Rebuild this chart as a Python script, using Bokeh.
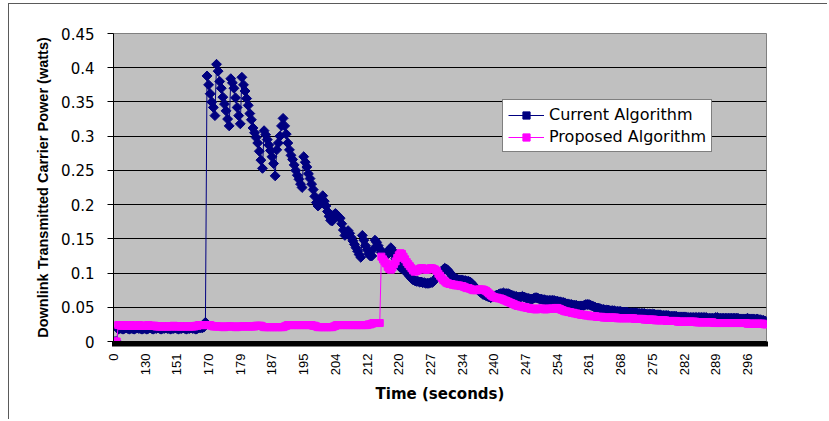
import numpy as np
from bokeh.plotting import figure
from bokeh.models import (Range1d, FixedTicker, CustomJSTickFormatter, Legend,
                          LegendItem, ColumnDataSource)
from bokeh.embed import file_html
from bokeh.resources import INLINE

# ---- data ----
time_labels = ["0", "130", "151", "170", "179", "187", "195", "204", "212", "220",
               "227", "234", "240", "247", "254", "261", "268", "275", "282", "289", "296"]
label_every = 20
y_ticks = [0, 0.05, 0.1, 0.15, 0.2, 0.25, 0.3, 0.35, 0.4, 0.45]

current = [
    0.0, 0.0, 0.0, 0.018, 0.019, 0.019, 0.018, 0.019, 0.02, 0.019,
    0.018, 0.019, 0.019, 0.018, 0.019, 0.02, 0.019, 0.019, 0.018, 0.019,
    0.019, 0.018, 0.019, 0.02, 0.019, 0.018, 0.019, 0.019, 0.02, 0.019,
    0.018, 0.019, 0.019, 0.02, 0.019, 0.019, 0.018, 0.019, 0.019, 0.02,
    0.019, 0.018, 0.019, 0.019, 0.02, 0.019, 0.018, 0.019, 0.019, 0.02,
    0.019, 0.019, 0.018, 0.019, 0.02, 0.02, 0.02, 0.021, 0.028, 0.388,
    0.375, 0.362, 0.35, 0.342, 0.33, 0.405, 0.395, 0.38, 0.37, 0.357,
    0.347, 0.337, 0.325, 0.315, 0.384, 0.378, 0.37, 0.356, 0.342, 0.33,
    0.318, 0.386, 0.375, 0.366, 0.355, 0.345, 0.333, 0.324, 0.312, 0.305,
    0.298, 0.29, 0.278, 0.265, 0.253, 0.308, 0.302, 0.295, 0.287, 0.279,
    0.27, 0.26, 0.242, 0.28, 0.29, 0.3, 0.315, 0.326, 0.315, 0.303,
    0.29, 0.28, 0.272, 0.266, 0.258, 0.25, 0.243, 0.237, 0.23, 0.225,
    0.27, 0.262, 0.255, 0.245, 0.238, 0.23, 0.222, 0.212, 0.203, 0.198,
    0.2, 0.208, 0.213, 0.205, 0.198, 0.19, 0.183, 0.177, 0.176, 0.185,
    0.187, 0.185, 0.182, 0.18, 0.172, 0.163, 0.155, 0.158, 0.162, 0.158,
    0.152, 0.147, 0.142, 0.137, 0.132, 0.127, 0.123, 0.155, 0.148, 0.14,
    0.134, 0.128, 0.125, 0.125, 0.135, 0.148, 0.145, 0.14, 0.135, 0.13,
    0.128, 0.126, 0.125, 0.13, 0.134, 0.137, 0.133, 0.127, 0.121, 0.116,
    0.112, 0.108, 0.107, 0.105, 0.103, 0.1, 0.098, 0.095, 0.092, 0.09,
    0.089, 0.088, 0.088, 0.087, 0.087, 0.086, 0.086, 0.085, 0.085, 0.085,
    0.086, 0.086, 0.088, 0.091, 0.094, 0.097, 0.1, 0.103, 0.105, 0.107,
    0.106, 0.104, 0.101, 0.098, 0.095, 0.093, 0.092, 0.091, 0.09, 0.09,
    0.09, 0.089, 0.089, 0.088, 0.088, 0.087, 0.085, 0.082, 0.08, 0.077,
    0.075, 0.073, 0.071, 0.069, 0.068, 0.067, 0.066, 0.065, 0.064, 0.065,
    0.066, 0.067, 0.068, 0.069, 0.07, 0.07, 0.071, 0.07, 0.07, 0.07,
    0.069, 0.068, 0.067, 0.066, 0.066, 0.065, 0.065, 0.065, 0.066, 0.065,
    0.064, 0.063, 0.063, 0.062, 0.062, 0.063, 0.064, 0.064, 0.063, 0.062,
    0.062, 0.061, 0.061, 0.06, 0.06, 0.06, 0.06, 0.06, 0.06, 0.059,
    0.059, 0.058, 0.058, 0.057, 0.057, 0.056, 0.055, 0.055, 0.054, 0.054,
    0.053, 0.053, 0.053, 0.052, 0.052, 0.052, 0.052, 0.053, 0.054, 0.054,
    0.054, 0.053, 0.052, 0.051, 0.05, 0.049, 0.049, 0.048, 0.047, 0.047,
    0.046, 0.046, 0.046, 0.045, 0.045, 0.045, 0.045, 0.044, 0.044, 0.044,
    0.044, 0.043, 0.043, 0.043, 0.043, 0.042, 0.042, 0.042, 0.042, 0.042,
    0.042, 0.041, 0.041, 0.041, 0.041, 0.041, 0.04, 0.04, 0.04, 0.04,
    0.04, 0.04, 0.039, 0.039, 0.039, 0.039, 0.038, 0.038, 0.038, 0.038,
    0.038, 0.037, 0.037, 0.037, 0.037, 0.037, 0.036, 0.036, 0.036, 0.036,
    0.036, 0.036, 0.035, 0.035, 0.035, 0.035, 0.035, 0.035, 0.035, 0.035,
    0.035, 0.035, 0.035, 0.035, 0.035, 0.034, 0.034, 0.034, 0.034, 0.034,
    0.035, 0.035, 0.034, 0.034, 0.034, 0.034, 0.034, 0.034, 0.034, 0.034,
    0.034, 0.034, 0.034, 0.034, 0.034, 0.033, 0.033, 0.033, 0.033, 0.033,
    0.034, 0.033, 0.033, 0.033, 0.033, 0.032, 0.033, 0.032, 0.032, 0.031,
    0.031, 0.03, 0.029,
]

proposed = [
    0.0, 0.0, 0.0, 0.024, 0.024, 0.023, 0.023, 0.024, 0.023, 0.023,
    0.023, 0.024, 0.023, 0.023, 0.023, 0.023, 0.024, 0.023, 0.023, 0.023,
    0.023, 0.023, 0.024, 0.023, 0.023, 0.023, 0.023, 0.022, 0.022, 0.022,
    0.022, 0.022, 0.022, 0.022, 0.022, 0.022, 0.022, 0.022, 0.023, 0.022,
    0.022, 0.022, 0.022, 0.022, 0.022, 0.022, 0.022, 0.022, 0.022, 0.022,
    0.022, 0.022, 0.023, 0.023, 0.024, 0.024, 0.024, 0.024, 0.024, 0.024,
    0.024, 0.024, 0.023, 0.022, 0.022, 0.022, 0.022, 0.022, 0.022, 0.021,
    0.021, 0.022, 0.022, 0.022, 0.022, 0.022, 0.022, 0.021, 0.021, 0.022,
    0.022, 0.022, 0.022, 0.022, 0.022, 0.022, 0.022, 0.022, 0.022, 0.022,
    0.023, 0.023, 0.023, 0.023, 0.022, 0.021, 0.021, 0.021, 0.021, 0.021,
    0.021, 0.021, 0.021, 0.021, 0.021, 0.021, 0.021, 0.021, 0.022, 0.023,
    0.024, 0.024, 0.024, 0.024, 0.024, 0.024, 0.024, 0.024, 0.024, 0.024,
    0.024, 0.024, 0.024, 0.024, 0.024, 0.024, 0.023, 0.023, 0.022, 0.021,
    0.021, 0.021, 0.021, 0.021, 0.021, 0.021, 0.021, 0.021, 0.021, 0.022,
    0.023, 0.024, 0.024, 0.024, 0.024, 0.024, 0.024, 0.024, 0.024, 0.024,
    0.024, 0.024, 0.024, 0.024, 0.024, 0.024, 0.024, 0.024, 0.024, 0.024,
    0.024, 0.025, 0.025, 0.026, 0.027, 0.027, 0.027, 0.027, 0.027, 0.124,
    0.12, 0.117, 0.114, 0.109, 0.106, 0.105, 0.108, 0.113, 0.117, 0.122,
    0.126, 0.129, 0.128, 0.124, 0.12, 0.116, 0.113, 0.11, 0.107, 0.104,
    0.102, 0.103, 0.104, 0.106, 0.107, 0.107, 0.106, 0.105, 0.105, 0.106,
    0.107, 0.107, 0.106, 0.105, 0.103, 0.099, 0.096, 0.093, 0.09, 0.088,
    0.086, 0.085, 0.084, 0.084, 0.083, 0.083, 0.082, 0.082, 0.082, 0.081,
    0.081, 0.08, 0.079, 0.078, 0.078, 0.077, 0.076, 0.075, 0.075, 0.075,
    0.076, 0.076, 0.076, 0.076, 0.075, 0.074, 0.072, 0.07, 0.068, 0.066,
    0.065, 0.064, 0.064, 0.063, 0.063, 0.062, 0.061, 0.06, 0.059, 0.058,
    0.057, 0.056, 0.055, 0.054, 0.053, 0.052, 0.052, 0.051, 0.051, 0.05,
    0.05, 0.049, 0.049, 0.048, 0.048, 0.048, 0.047, 0.047, 0.048, 0.048,
    0.048, 0.048, 0.047, 0.047, 0.048, 0.048, 0.048, 0.048, 0.048, 0.049,
    0.049, 0.048, 0.047, 0.046, 0.045, 0.044, 0.044, 0.043, 0.043, 0.042,
    0.042, 0.041, 0.041, 0.04, 0.04, 0.039, 0.039, 0.039, 0.038, 0.038,
    0.038, 0.037, 0.037, 0.037, 0.037, 0.036, 0.036, 0.036, 0.036, 0.035,
    0.035, 0.035, 0.035, 0.035, 0.035, 0.035, 0.035, 0.035, 0.034, 0.034,
    0.034, 0.034, 0.034, 0.034, 0.034, 0.034, 0.034, 0.034, 0.034, 0.033,
    0.033, 0.033, 0.033, 0.033, 0.033, 0.032, 0.032, 0.032, 0.032, 0.032,
    0.032, 0.032, 0.031, 0.031, 0.031, 0.031, 0.031, 0.031, 0.031, 0.03,
    0.03, 0.03, 0.03, 0.03, 0.03, 0.03, 0.029, 0.029, 0.029, 0.029,
    0.029, 0.029, 0.029, 0.029, 0.029, 0.029, 0.029, 0.029, 0.028, 0.028,
    0.028, 0.028, 0.028, 0.028, 0.028, 0.028, 0.028, 0.028, 0.028, 0.027,
    0.027, 0.027, 0.027, 0.027, 0.027, 0.027, 0.027, 0.027, 0.027, 0.027,
    0.027, 0.027, 0.027, 0.027, 0.027, 0.027, 0.027, 0.027, 0.027, 0.027,
    0.026, 0.026, 0.026, 0.026, 0.026, 0.026, 0.026, 0.026, 0.026, 0.026,
    0.026, 0.025, 0.025,
]

idx = list(range(len(current)))
src = ColumnDataSource(dict(x=idx, cur=current, pro=proposed))

p = figure(width=819, height=416, output_backend="svg", toolbar_location=None,
           x_range=Range1d(0, len(current) - 1), y_range=Range1d(0, 0.45),
           min_border_left=104, min_border_right=62, min_border_top=29,
           min_border_bottom=79)
# page frame lines along the top and left, drawn as an offset shadow (no layout effect);
# an opaque element background keeps the shadow from showing anywhere else
p.styles = {"margin-left": "9px", "margin-top": "4px",
            "background-color": "white",
            "box-shadow": "-1px -1px 0px 0px #5a5a5a"}
p.background_fill_color = "#C0C0C0"
p.border_fill_color = "white"
p.outline_line_color = "#808080"
p.outline_line_width = 1

p.xgrid.visible = False
p.ygrid.ticker = FixedTicker(ticks=y_ticks[1:-1])
p.ygrid.grid_line_color = "#000000"
p.ygrid.grid_line_width = 1

l1 = p.line("x", "cur", source=src, line_color="#000080", line_width=1)
s1 = p.scatter("x", "cur", source=src, marker="square", angle=np.pi / 4, size=7,
               fill_color="#000080", line_color="#000080", line_width=1)
l2 = p.line("x", "pro", source=src, line_color="#FF00FF", line_width=1)
s2 = p.scatter("x", "pro", source=src, marker="square", size=7,
               fill_color="#FF00FF", line_color="#FF00FF", line_width=1)

# x axis
xa = p.xaxis[0]
xa.ticker = FixedTicker(ticks=idx)
xa.formatter = CustomJSTickFormatter(
    args=dict(labels=time_labels, step=label_every),
    code="return (tick % step == 0) ? labels[tick / step] : '';")
xa.major_label_orientation = np.pi / 2
xa.major_tick_in = 0
xa.major_tick_out = 5
xa.major_tick_line_width = 3
xa.major_tick_line_color = "black"
xa.minor_tick_line_color = None
xa.axis_line_color = "black"
xa.major_label_text_font = "Liberation Sans"
xa.major_label_text_font_size = "13px"
xa.major_label_text_color = "black"
xa.major_label_standoff = 7
xa.axis_label = "Time (seconds)"
xa.axis_label_text_font = "DejaVu Sans"
xa.axis_label_text_font_style = "bold"
xa.axis_label_text_font_size = "15px"
xa.axis_label_text_color = "black"
xa.axis_label_standoff = 7

# y axis
ya = p.yaxis[0]
ya.ticker = FixedTicker(ticks=y_ticks)
ya.formatter = CustomJSTickFormatter(code="return String(Math.round(tick * 100) / 100);")
ya.major_tick_in = 0
ya.major_tick_out = 6
ya.major_tick_line_color = "black"
ya.minor_tick_line_color = None
ya.axis_line_color = "black"
ya.major_label_text_font = "DejaVu Sans"
ya.major_label_text_font_size = "15px"
ya.major_label_text_color = "black"
ya.major_label_standoff = 13
ya.axis_label = "Downlink Transmitted Carrier Power (watts)"
ya.axis_label_text_font = "Liberation Sans"
ya.axis_label_text_font_style = "bold"
ya.axis_label_text_font_size = "14.5px"
ya.axis_label_text_color = "black"
ya.axis_label_standoff = 7

legend = Legend(items=[LegendItem(label="Current Algorithm", renderers=[l1, s1]),
                       LegendItem(label="Proposed Algorithm", renderers=[l2, s2])],
                location=(389, 189), margin=0, padding=5, spacing=3,
                glyph_width=36, glyph_height=18, label_height=18, label_standoff=5,
                label_text_font="DejaVu Sans", label_text_font_size="16px",
                label_text_color="black", border_line_color="black",
                border_line_width=1, background_fill_color="white",
                background_fill_alpha=1.0)
p.add_layout(legend)

open("out.html", "w").write(file_html(p, INLINE))
